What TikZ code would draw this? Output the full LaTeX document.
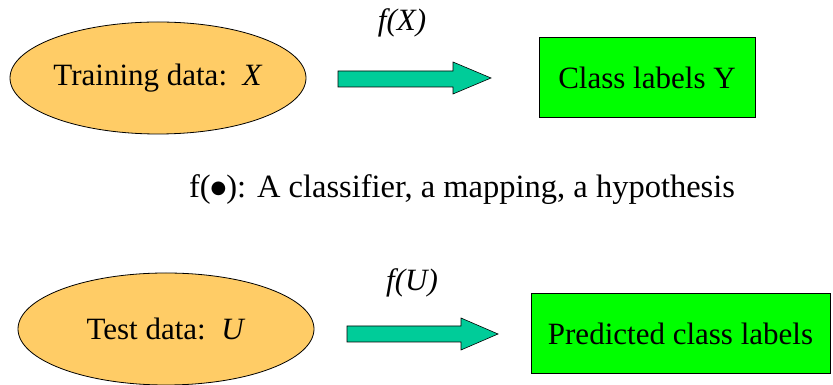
\documentclass[tikz,border=0pt]{standalone}
\usepackage{fontspec}
\setmainfont{Liberation Serif}
\newfontfamily\dejavu{DejaVu Sans}
\usetikzlibrary{shapes.geometric}
\definecolor{ellfill}{HTML}{FFCC66}
\definecolor{arrfill}{HTML}{00CC99}
\definecolor{boxfill}{HTML}{00FF00}
\begin{document}
\begin{tikzpicture}[x=1pt,y=1pt,
  txt/.style={font=\fontsize{31}{37}\selectfont, inner sep=0pt},
  datanode/.style={ellipse, draw=black, line width=0.8pt, fill=ellfill, minimum width=296pt, minimum height=112pt, inner sep=0pt, font=\fontsize{31}{37}\selectfont},
  labelbox/.style={rectangle, draw=black, line width=1pt, fill=boxfill, minimum height=80pt, inner sep=0pt, font=\fontsize{31}{37}\selectfont},
  blockarrow/.style={draw=black, line width=0.6pt, fill=arrfill}]
\useasboundingbox (0,0) rectangle (833,385);
% top row
\node[datanode] (train) at (158,307) {Training data:\ \ \textit{X}};
\draw[blockarrow] (338,314) -- (453,314) -- (453,323) -- (491,307) -- (453,291) -- (453,298) -- (338,298) -- cycle;
\node[txt] (fx) at (402,362) {\textit{f(X)}};
\node[labelbox, minimum width=216pt] (cls) at (647,307) {Class labels Y};
% middle text
\node[txt, font=\fontsize{32.5}{38}\selectfont] (desc) at (462,195) {f(\raisebox{4pt}{\dejavu\fontsize{18}{18}\selectfont ●}): A classifier, a mapping, a hypothesis};
% bottom row
\node[datanode] (test) at (166,56) {Test data:\ \ \textit{U}};
\draw[blockarrow] (347,59) -- (461,59) -- (461,67) -- (498,51) -- (461,35) -- (461,43) -- (347,43) -- cycle;
\node[txt] (fu) at (412,102) {\textit{f(U)}};
\node[labelbox, minimum width=299pt] (pred) at (680.5,51) {Predicted class labels};
\end{tikzpicture}
\end{document}
